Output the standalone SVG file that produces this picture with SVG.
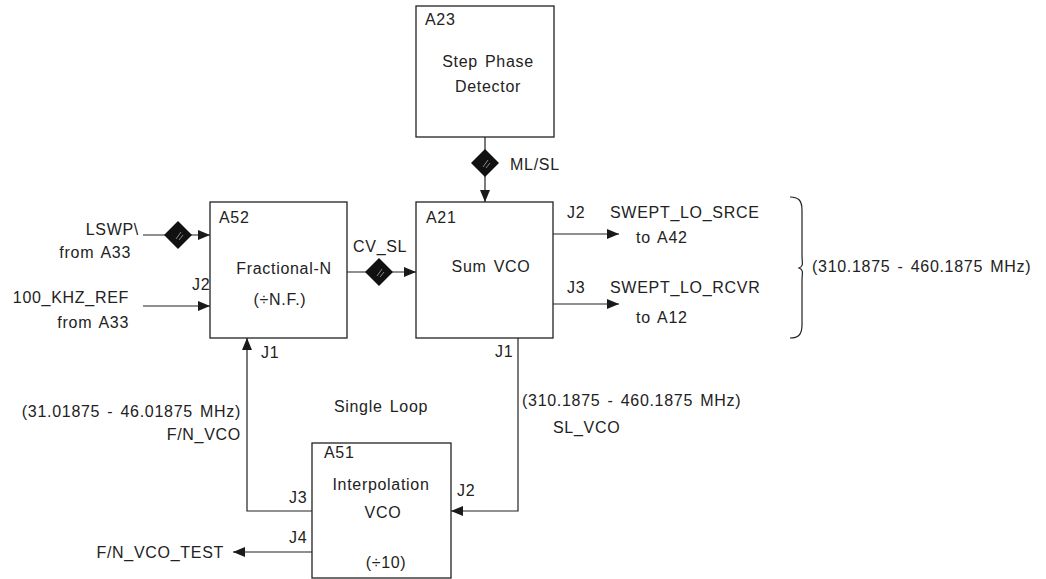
<svg xmlns="http://www.w3.org/2000/svg" width="1046" height="579" viewBox="0 0 1046 579">
<defs>
<marker id="ah" viewBox="0 0 12 10" refX="12" refY="5" markerWidth="12" markerHeight="10" markerUnits="userSpaceOnUse" orient="auto">
<path d="M0,0 L12,5 L0,10 Z" fill="#1a1a1a"/>
</marker>
<g id="dia">
<path d="M0,-14 L14,0 L0,14 L-14,0 Z" fill="#111"/>
<path d="M-2,4 L3,-3 M1,5 L5,0" stroke="#888" stroke-width="1"/>
</g>
</defs>
<style>
text{font-family:"Liberation Sans",Arial,sans-serif;font-size:16px;fill:#222;letter-spacing:0.7px;word-spacing:2px}
.m{text-anchor:middle}
.e{text-anchor:end}
.box{fill:#fff;stroke:#222;stroke-width:1.3}
.ln{fill:none;stroke:#222;stroke-width:1.2}
</style>
<rect width="1046" height="579" fill="#fff"/>
<g id="connectors">
<line class="ln" x1="485" y1="137" x2="485" y2="202" marker-end="url(#ah)"/>
<use href="#dia" x="485" y="163"/>
<line class="ln" x1="143" y1="235" x2="210" y2="235" marker-end="url(#ah)"/>
<use href="#dia" x="178" y="235"/>
<line class="ln" x1="143" y1="306" x2="210" y2="306" marker-end="url(#ah)"/>
<line class="ln" x1="347" y1="272" x2="416" y2="272" marker-end="url(#ah)"/>
<use href="#dia" x="379" y="272"/>
<line class="ln" x1="553" y1="234" x2="619" y2="234" marker-end="url(#ah)"/>
<line class="ln" x1="553" y1="304" x2="619" y2="304" marker-end="url(#ah)"/>
<polyline class="ln" points="312,511 247,511 247,338" marker-end="url(#ah)"/>
<polyline class="ln" points="518,338 518,511 451,511" marker-end="url(#ah)"/>
<line class="ln" x1="312" y1="552" x2="233" y2="552" marker-end="url(#ah)"/>
<path class="ln" d="M790,197 C798,197 802,200 802,210 L802,255 C802,263 804,266 799,268 C804,270 802,273 802,281 L802,325 C802,335 798,338 790,338"/>
</g>
<g id="A23">
<rect class="box" x="416" y="6" width="138" height="131"/>
<text x="425" y="25">A23</text>
<text class="m" x="488" y="67">Step Phase</text>
<text class="m" x="488" y="92">Detector</text>
</g>
<text x="510" y="170">ML/SL</text>
<g id="A52">
<rect class="box" x="210" y="202" width="137" height="136"/>
<text x="219" y="223">A52</text>
<text class="m" x="284" y="274">Fractional-N</text>
<text class="m" x="280" y="305">(÷N.F.)</text>
</g>
<g id="A21">
<rect class="box" x="416" y="202" width="137" height="136"/>
<text x="426" y="223">A21</text>
<text class="m" x="491" y="272">Sum VCO</text>
</g>
<g id="A51">
<rect class="box" x="312" y="443" width="139" height="135"/>
<text x="324" y="458">A51</text>
<text class="m" x="381" y="490">Interpolation</text>
<text class="m" x="383" y="518">VCO</text>
<text class="m" x="386" y="568">(÷10)</text>
</g>
<text class="e" x="139" y="235">LSWP\</text>
<text class="e" x="131" y="258">from A33</text>
<text class="e" x="129" y="303">100_KHZ_REF</text>
<text class="e" x="129" y="328">from A33</text>
<text x="192" y="290">J2</text>
<text x="353" y="252">CV_SL</text>
<text x="567" y="218">J2</text>
<text x="610" y="218">SWEPT_LO_SRCE</text>
<text x="636" y="243">to A42</text>
<text x="567" y="293">J3</text>
<text x="610" y="293">SWEPT_LO_RCVR</text>
<text x="636" y="323">to A12</text>
<text x="812" y="272">(310.1875 - 460.1875 MHz)</text>
<text x="261" y="358">J1</text>
<text x="495" y="357">J1</text>
<text class="e" x="241" y="417">(31.01875 - 46.01875 MHz)</text>
<text class="e" x="241" y="440">F/N_VCO</text>
<text class="m" x="381" y="412">Single Loop</text>
<text x="522" y="406">(310.1875 - 460.1875 MHz)</text>
<text x="553" y="433">SL_VCO</text>
<text x="457" y="496">J2</text>
<text x="289" y="503">J3</text>
<text x="289" y="543">J4</text>
<text class="e" x="224" y="558">F/N_VCO_TEST</text>
</svg>
